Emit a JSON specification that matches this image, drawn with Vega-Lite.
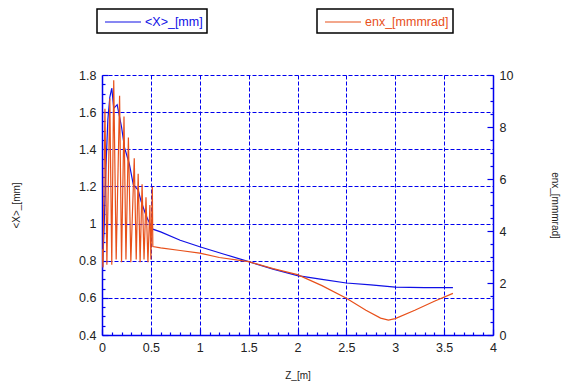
{
  "$schema": "https://vega.github.io/schema/vega-lite/v6.json",
  "width": 391,
  "height": 260,
  "autosize": {"type": "none"},
  "padding": {"left": 102, "top": 75, "right": 70, "bottom": 46},
  "background": "white",
  "config": {
    "view": {"stroke": null},
    "font": "Liberation Sans",
    "axis": {
      "domainColor": "#0000ee",
      "domainWidth": 1.5,
      "tickColor": "#0000ee",
      "tickWidth": 1.2,
      "gridColor": "#0000ee",
      "gridDash": [4, 2],
      "gridWidth": 1,
      "labelFont": "Liberation Sans",
      "labelFontSize": 12.5,
      "labelColor": "#222222",
      "titleFont": "Liberation Sans",
      "titleFontSize": 10,
      "titleFontWeight": "normal",
      "titleColor": "#222222"
    },
    "legend": {
      "orient": "none",
      "strokeColor": "black",
      "strokeWidth": 1.5,
      "fillColor": "white",
      "padding": 4,
      "symbolType": "M-1,0H3.5",
      "symbolSize": 256,
      "symbolOffset": 3,
      "symbolStrokeWidth": 1.2,
      "labelOffset": 23,
      "labelFont": "Liberation Sans",
      "labelFontSize": 12.5,
      "direction": "vertical"
    }
  },
  "datasets": {
    "xrms": [
      {"z": 0.0, "v": 0.70},
      {"z": 0.02, "v": 0.95},
      {"z": 0.04, "v": 1.30},
      {"z": 0.06, "v": 1.56},
      {"z": 0.08, "v": 1.68},
      {"z": 0.10, "v": 1.73},
      {"z": 0.12, "v": 1.62},
      {"z": 0.155, "v": 1.64},
      {"z": 0.20, "v": 1.52},
      {"z": 0.23, "v": 1.41},
      {"z": 0.28, "v": 1.32},
      {"z": 0.32, "v": 1.21},
      {"z": 0.37, "v": 1.18},
      {"z": 0.40, "v": 1.12},
      {"z": 0.44, "v": 1.06},
      {"z": 0.47, "v": 1.02},
      {"z": 0.52, "v": 0.97},
      {"z": 0.60, "v": 0.955},
      {"z": 0.80, "v": 0.91},
      {"z": 1.00, "v": 0.875},
      {"z": 1.25, "v": 0.835},
      {"z": 1.50, "v": 0.795},
      {"z": 1.75, "v": 0.755},
      {"z": 2.00, "v": 0.72},
      {"z": 2.25, "v": 0.70},
      {"z": 2.50, "v": 0.68},
      {"z": 2.75, "v": 0.67},
      {"z": 3.00, "v": 0.658},
      {"z": 3.30, "v": 0.655},
      {"z": 3.59, "v": 0.655}
    ],
    "enx": [
      {"z": 0.0, "v": 3.3},
      {"z": 0.01, "v": 2.6},
      {"z": 0.03, "v": 8.7},
      {"z": 0.05, "v": 2.7},
      {"z": 0.08, "v": 9.1},
      {"z": 0.10, "v": 2.7},
      {"z": 0.12, "v": 9.8},
      {"z": 0.145, "v": 2.9},
      {"z": 0.18, "v": 9.2},
      {"z": 0.20, "v": 2.8},
      {"z": 0.225, "v": 8.4},
      {"z": 0.245, "v": 2.9},
      {"z": 0.27, "v": 7.6},
      {"z": 0.295, "v": 2.8},
      {"z": 0.33, "v": 6.8},
      {"z": 0.35, "v": 2.9},
      {"z": 0.37, "v": 6.2},
      {"z": 0.39, "v": 2.8},
      {"z": 0.41, "v": 5.8},
      {"z": 0.43, "v": 2.9},
      {"z": 0.45, "v": 5.3},
      {"z": 0.47, "v": 2.8},
      {"z": 0.49, "v": 5.0},
      {"z": 0.50, "v": 2.9},
      {"z": 0.515, "v": 5.7},
      {"z": 0.52, "v": 3.4},
      {"z": 0.60, "v": 3.35},
      {"z": 0.80, "v": 3.25},
      {"z": 1.00, "v": 3.15},
      {"z": 1.20, "v": 2.98},
      {"z": 1.50, "v": 2.82},
      {"z": 1.75, "v": 2.55},
      {"z": 2.00, "v": 2.32},
      {"z": 2.25, "v": 1.9},
      {"z": 2.50, "v": 1.41},
      {"z": 2.70, "v": 0.95},
      {"z": 2.85, "v": 0.65},
      {"z": 2.93, "v": 0.57},
      {"z": 3.00, "v": 0.63},
      {"z": 3.20, "v": 0.95},
      {"z": 3.40, "v": 1.3},
      {"z": 3.59, "v": 1.6}
    ]
  },
  "encoding": {
    "x": {
      "field": "z",
      "type": "quantitative",
      "scale": {"domain": [0, 4], "nice": false, "zero": false},
      "axis": {
        "title": "Z_[m]",
        "titlePadding": 14,
        "values": [0, 0.1, 0.2, 0.3, 0.4, 0.5, 0.6, 0.7, 0.8, 0.9, 1, 1.1, 1.2, 1.3, 1.4, 1.5, 1.6, 1.7, 1.8, 1.9, 2, 2.1, 2.2, 2.3, 2.4, 2.5, 2.6, 2.7, 2.8, 2.9, 3, 3.1, 3.2, 3.3, 3.4, 3.5, 3.6, 3.7, 3.8, 3.9, 4],
        "labelExpr": "abs(datum.value*2 - round(datum.value*2)) < 1e-6 ? format(datum.value, '~g') : ''",
        "tickSize": {"condition": {"test": "abs(datum.value*2 - round(datum.value*2)) < 1e-6", "value": -6}, "value": -3},
        "gridOpacity": {"condition": {"test": "abs(datum.value*2 - round(datum.value*2)) < 1e-6 && datum.value > 0 && datum.value < 4", "value": 1}, "value": 0},
        "labelPadding": 12,
        "labelFlush": false,
        "labelOverlap": false
      }
    }
  },
  "layer": [
    {
      "data": {"name": "xrms"},
      "mark": {"type": "line", "strokeWidth": 1.2, "clip": true},
      "encoding": {
        "y": {
          "field": "v",
          "type": "quantitative",
          "scale": {"domain": [0.4, 1.8], "nice": false, "zero": false},
          "axis": {
            "title": "<X>_[mm]",
            "orient": "left",
            "titlePadding": 57,
            "values": [0.4, 0.45, 0.5, 0.55, 0.6, 0.65, 0.7, 0.75, 0.8, 0.85, 0.9, 0.95, 1, 1.05, 1.1, 1.15, 1.2, 1.25, 1.3, 1.35, 1.4, 1.45, 1.5, 1.55, 1.6, 1.65, 1.7, 1.75, 1.8],
            "labelExpr": "abs(datum.value*5 - round(datum.value*5)) < 1e-6 ? format(datum.value, '~g') : ''",
            "tickSize": {"condition": {"test": "abs(datum.value*5 - round(datum.value*5)) < 1e-6", "value": -6}, "value": -3},
            "gridOpacity": {"condition": {"test": "abs(datum.value*5 - round(datum.value*5)) < 1e-6 && datum.value > 0.41", "value": 1}, "value": 0},
            "labelPadding": 12,
            "labelFlush": false,
            "labelOverlap": false
          }
        },
        "color": {
          "datum": "<X>_[mm]",
          "scale": {"range": ["#1010e6"]},
          "legend": {"title": null, "legendX": -5, "legendY": -66, "labelColor": "#1010e6"}
        }
      }
    },
    {
      "data": {"name": "enx"},
      "mark": {"type": "line", "strokeWidth": 1.2, "clip": true},
      "encoding": {
        "y": {
          "field": "v",
          "type": "quantitative",
          "scale": {"domain": [0, 10], "nice": false, "zero": false},
          "axis": {
            "title": "enx_[mmmrad]",
            "orient": "right",
            "titleAngle": 90,
            "titlePadding": 37,
            "values": [0, 0.5, 1, 1.5, 2, 2.5, 3, 3.5, 4, 4.5, 5, 5.5, 6, 6.5, 7, 7.5, 8, 8.5, 9, 9.5, 10],
            "labelExpr": "datum.value % 2 === 0 ? format(datum.value, '~g') : ''",
            "tickSize": {"condition": {"test": "datum.value % 2 === 0", "value": -6}, "value": -3},
            "gridOpacity": {"condition": {"test": "datum.value % 2 === 0 && datum.value > 0", "value": 1}, "value": 0},
            "labelPadding": 12,
            "labelFlush": false,
            "labelOverlap": false
          }
        },
        "color": {
          "datum": "enx_[mmmrad]",
          "scale": {"range": ["#e8501a"]},
          "legend": {"title": null, "legendX": 215, "legendY": -66, "labelColor": "#e8501a"}
        }
      }
    }
  ],
  "resolve": {"scale": {"y": "independent", "color": "independent"}}
}
